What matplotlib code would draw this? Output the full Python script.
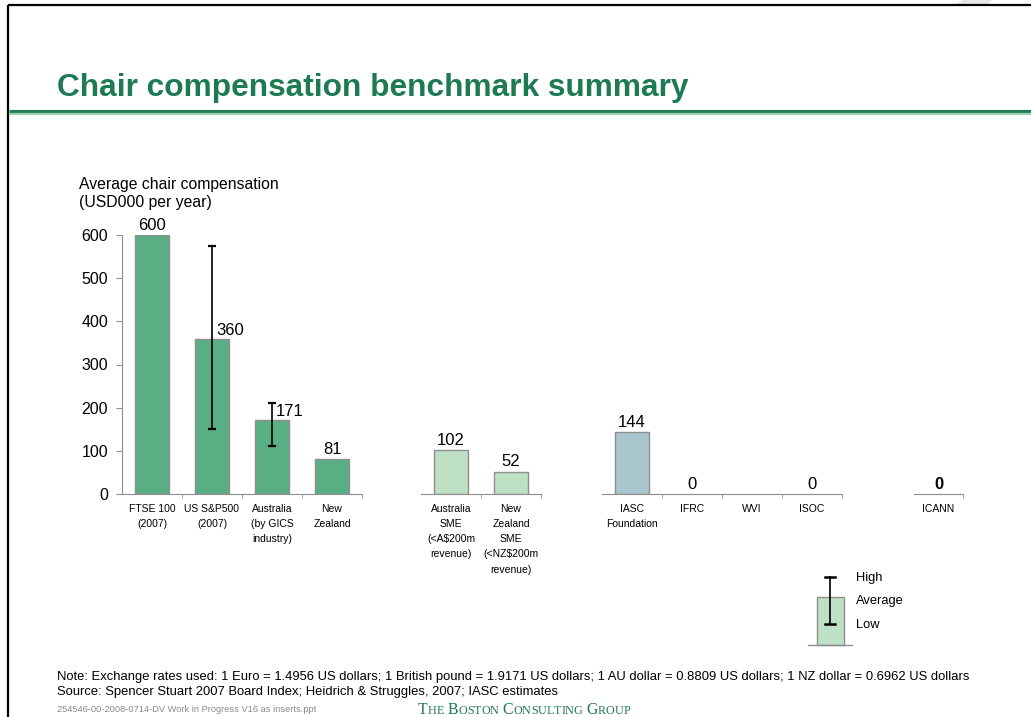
import matplotlib
matplotlib.use("Agg")
import matplotlib.pyplot as plt
from matplotlib.patches import Rectangle, Polygon

plt.rcParams['font.family'] = ['Liberation Sans', 'DejaVu Sans']

# data (USD000 per year)
grp1_labels = ["FTSE 100\n(2007)", "US S&P500\n(2007)", "Australia\n(by GICS\nindustry)", "New\nZealand"]
grp1_values = [600, 360, 171, 81]
grp1_low = [None, 150, 112, None]
grp1_high = [None, 575, 210, None]

grp2_labels = ["Australia\nSME\n(<A$200m\nrevenue)", "New\nZealand\nSME\n(<NZ$200m\nrevenue)"]
grp2_values = [102, 52]

grp3_labels = ["IASC\nFoundation", "IFRC", "WVI", "ISOC"]
grp3_values = [144, 0, None, 0]

grp4_labels = ["ICANN"]
grp4_values = [0]

yticks = [0, 100, 200, 300, 400, 500, 600]

DARK = "#5aae84"
LIGHT = "#bee0c5"
BLUE = "#a9c6cf"
EDGE = "#8f8f8f"
TITLE_GREEN = "#1d7a52"

W, H = 1031, 717
fig = plt.figure(figsize=(W / 100, H / 100), dpi=100)
fig.patch.set_facecolor("white")

Y0, Y1 = 494, 235   # pixel rows of 0 and 600


def make_axes(x0, x1, ncat, first=False):
    ax = fig.add_axes([x0 / W, 1 - Y0 / H, (x1 - x0) / W, (Y0 - Y1) / H])
    ax.set_xlim(0, ncat)
    ax.set_ylim(0, 600)
    ax.patch.set_alpha(0)
    for s in ["top", "right"]:
        ax.spines[s].set_visible(False)
    ax.spines["bottom"].set_color(EDGE)
    ax.spines["left"].set_color(EDGE)
    ax.set_xticks([i + 0.5 for i in range(ncat)])
    ax.set_xticks(list(range(1, ncat + 1)), minor=True)
    ax.tick_params(axis="x", which="major", length=0, pad=7, labelsize=7.5)
    ax.tick_params(axis="x", which="minor", length=3, color=EDGE, direction="out")
    if first:
        ax.set_yticks(yticks)
        ax.tick_params(axis="y", length=4, color=EDGE, labelsize=11.5, pad=6)
    else:
        ax.spines["left"].set_visible(False)
        ax.set_yticks([])
    return ax


def draw_bars(ax, labels, values, color, lows=None, highs=None, bold=False):
    xs = [i + 0.5 for i in range(len(values))]
    ax.set_xticklabels(labels, linespacing=1.65, va="top")
    for i, (x, v) in enumerate(zip(xs, values)):
        if v is None:
            continue
        if v > 0:
            ax.bar(x, v, width=0.56, color=color, edgecolor=EDGE, linewidth=1)
        if lows is not None and lows[i] is not None:
            ax.errorbar(x, v, yerr=[[v - lows[i]], [highs[i] - v]], fmt="none",
                        ecolor="black", elinewidth=1.2, capsize=3, capthick=1.6)
            ax.annotate(str(v), (x, v), xytext=(3, 0.5), textcoords="offset points",
                        ha="left", va="bottom", fontsize=12)
        else:
            ax.annotate(str(v), (x, v), xytext=(0, 1.5), textcoords="offset points",
                        ha="center", va="bottom", fontsize=12,
                        fontweight="bold" if bold else "normal")


ax1 = make_axes(122, 362, 4, first=True)
draw_bars(ax1, grp1_labels, grp1_values, DARK, grp1_low, grp1_high)

ax2 = make_axes(421, 541, 2)
draw_bars(ax2, grp2_labels, grp2_values, LIGHT)

ax3 = make_axes(602, 842, 4)
draw_bars(ax3, grp3_labels, grp3_values, BLUE)

ax4 = make_axes(914, 963, 1)
draw_bars(ax4, grp4_labels, grp4_values, DARK, bold=True)

fig.text(79 / W, 1 - 194 / H, "Average chair compensation\n(USD000 per year)",
         fontsize=11.3, ha="left", va="center", linespacing=1.25)

# slide decoration layer in pixel coordinates
deco = fig.add_axes([0, 0, 1, 1])
deco.set_xlim(0, W)
deco.set_ylim(H, 0)
deco.axis("off")
deco.patch.set_alpha(0)
deco.add_patch(Polygon([[962, 0], [992, 0], [986, 5], [956, 5]], closed=True,
                       color="#e6e6e6", lw=0))
deco.plot([8, 8], [5, H], color="black", lw=1.6, solid_capstyle="butt")
deco.plot([8, W], [5, 5], color="black", lw=1.6, solid_capstyle="butt")
deco.plot([9, W], [110.5, 110.5], color="#247d55", lw=2.3, solid_capstyle="butt")
deco.plot([9, W], [113.5, 113.5], color="#9ccfab", lw=1.6, solid_capstyle="butt")

deco.text(57, 88, "Chair compensation benchmark summary", fontsize=22.8,
          fontweight="bold", color=TITLE_GREEN, ha="left", va="center")

# legend key
deco.add_patch(Rectangle((817, 597), 27, 48, facecolor=LIGHT, edgecolor=EDGE, lw=1))
deco.plot([808, 852], [645, 645], color=EDGE, lw=1)
deco.plot([830, 830], [577, 624], color="black", lw=1.2)
deco.plot([825, 835], [577, 577], color="black", lw=1.8)
deco.plot([825, 835], [624, 624], color="black", lw=1.8)
for txt, yy in [("High", 578), ("Average", 601), ("Low", 625)]:
    deco.text(856, yy, txt, fontsize=9.3, ha="left", va="center")

deco.text(57, 677, "Note: Exchange rates used: 1 Euro = 1.4956 US dollars; 1 British pound = "
          "1.9171 US dollars; 1 AU dollar = 0.8809 US dollars; 1 NZ dollar = 0.6962 US dollars",
          fontsize=9.4, ha="left", va="center")
deco.text(57, 692, "Source: Spencer Stuart 2007 Board Index; Heidrich & Struggles, 2007; IASC estimates",
          fontsize=9.4, ha="left", va="center")
deco.text(57, 710, "254546-00-2008-0714-DV Work in Progress V16 as inserts.ppt",
          fontsize=6.7, color="#8a8a8a", ha="left", va="center")

# small caps logo text
fig.canvas.draw()
renderer = fig.canvas.get_renderer()
xpos = 418
for word in ["The", "Boston", "Consulting", "Group"]:
    for j, ch in enumerate(word):
        size = 11.4 if j == 0 else 8.7
        t = deco.text(xpos, 714, ch.upper(), fontsize=size, family="Liberation Serif",
                      color="#1f7a50", ha="left", va="baseline")
        bb = t.get_window_extent(renderer)
        xpos += bb.width
    xpos += 4

fig.savefig("out.png", dpi=100, facecolor="white")
